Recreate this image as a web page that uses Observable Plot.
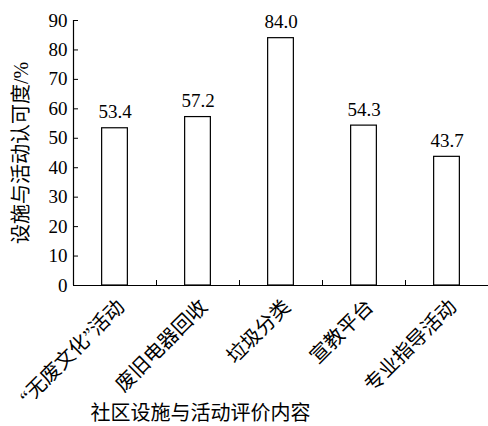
<!DOCTYPE html>
<html><head><meta charset="utf-8">
<script src="https://cdn.jsdelivr.net/npm/d3@7"></script>
<script src="https://cdn.jsdelivr.net/npm/@observablehq/plot@0.6"></script>
<style>
body{margin:0;background:#fff;}
</style></head><body>
<div id="chart"></div>
<script>
const categories = ["“无废文化”活动","废旧电器回收","垃圾分类","宣教平台","专业指导活动"];
const values = [53.4, 57.2, 84.0, 54.3, 43.7];
const yTicks = [0,10,20,30,40,50,60,70,80,90];
const yLabel = "设施与活动认可度/%";
const xTitle = "社区设施与活动评价内容";

const data = categories.map((c,i)=>({c, i, v: values[i]}));
const half = 0.155;
const chart = Plot.plot({
  width: 488, height: 426,
  marginLeft: 73, marginRight: 0, marginTop: 20, marginBottom: 141,
  style: {fontFamily: '"Liberation Serif","Noto Sans CJK SC",serif', fontSize: "19px", color: "#000", background: "#fff"},
  x: {domain: [0, 5]},
  y: {domain: [0, 90]},
  marks: [
    Plot.rectY(data, {x1: d => d.i + 0.5 - half, x2: d => d.i + 0.5 + half, y1: 0, y2: "v", fill: "white", stroke: "#000", strokeWidth: 1.2}),
    Plot.text(data, {x: d => d.i + 0.5, y: "v", text: d => d.v.toFixed(1), lineAnchor: "bottom", dy: -10, fontSize: 19}),
    Plot.axisY({ticks: yTicks, tickSize: -5, tickPadding: 11, label: yLabel, labelAnchor: "center", labelArrow: "none", labelOffset: 60, fontSize: 19}),
    Plot.axisX({ticks: [1,2,3,4], tickSize: -5, tickFormat: () => "", label: null}),
    Plot.axisX({ticks: categories.map((c,i)=>i+0.5), tickFormat: t => categories[Math.floor(t)], tickRotate: -45, tickSize: 0, tickPadding: 18, dx: 6, label: null, fontSize: 20}),
    Plot.text([xTitle], {frameAnchor: "bottom-left", text: d => d, textAnchor: "middle", lineAnchor: "middle", dx: 127, dy: 128, fontSize: 20}),
    Plot.ruleX([0], {stroke: "#000", strokeWidth: 1.2}),
    Plot.ruleY([0], {stroke: "#000", strokeWidth: 1.2})
  ]
});
document.getElementById("chart").appendChild(chart);
chart.querySelectorAll("g[aria-label='y-axis label'] text").forEach(t => t.setAttribute("font-size", "20"));
</script>
</body></html>
